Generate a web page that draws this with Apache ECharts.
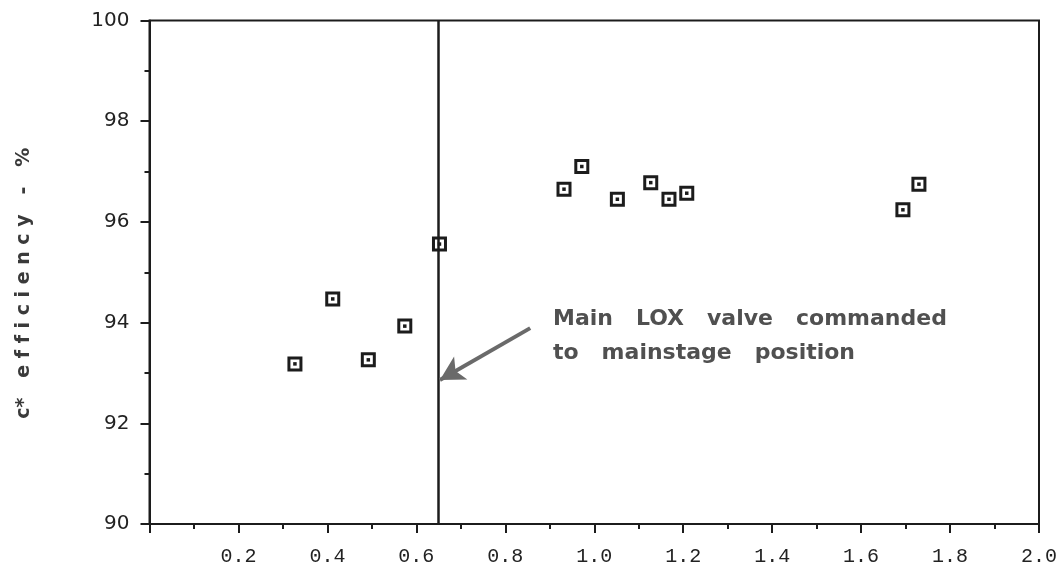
<!DOCTYPE html>
<html>
<head>
<meta charset="utf-8">
<script src="https://cdn.jsdelivr.net/npm/echarts@6/dist/echarts.min.js"></script>
<style>
html,body{margin:0;padding:0;background:#fff;}
#chart{width:1063px;height:572px;}
</style>
</head>
<body>
<div id="chart"></div>
<script>
// Data
const xValues = [0.327, 0.412, 0.492, 0.574, 0.652, 0.932, 0.972, 1.052, 1.127, 1.168, 1.208, 1.694, 1.730];
const yValues = [93.18, 94.47, 93.26, 93.93, 95.56, 96.65, 97.10, 96.45, 96.78, 96.45, 96.57, 96.24, 96.75];
const valveLineX = 0.65;
const arrowFrom = [0.856, 93.89];
const arrowTo = [0.653, 92.86];
const annotationLines = ['Main   LOX   valve   commanded', 'to   mainstage   position'];
const yAxisTitle = 'c*   e f f i c i e n c y   -   %';

const points = xValues.map((x, i) => [x, yValues[i]]);
const chart = echarts.init(document.getElementById('chart'));
const ink = '#1c1c1c';

chart.setOption({
  animation: false,
  backgroundColor: '#ffffff',
  grid: { left: 149.5, right: 24, top: 20.5, bottom: 48, show: true, borderColor: ink, borderWidth: 2, backgroundColor: 'transparent' },
  xAxis: {
    type: 'value', min: 0, max: 2, interval: 0.2,
    axisLine: { show: true, lineStyle: { color: ink, width: 2 } },
    axisTick: { show: true, length: 9, lineStyle: { color: ink, width: 2 } },
    minorTick: { show: true, splitNumber: 2, length: 5, lineStyle: { color: ink, width: 2 } },
    splitLine: { show: false },
    axisLabel: { margin: 23, color: '#222', fontFamily: 'Liberation Mono', fontSize: 20,
      formatter: v => (Math.abs(v) < 1e-9 ? '' : v.toFixed(1)) }
  },
  yAxis: {
    type: 'value', min: 90, max: 100, interval: 2,
    name: yAxisTitle, nameLocation: 'middle', nameGap: 116, nameRotate: 90,
    nameTextStyle: { fontFamily: 'DejaVu Sans', fontWeight: 'bold', fontSize: 19, color: '#3a3a3a', padding: [0, 22, 0, 0] },
    axisLine: { show: true, lineStyle: { color: ink, width: 2 } },
    axisTick: { show: true, length: 9, lineStyle: { color: ink, width: 2 } },
    minorTick: { show: true, splitNumber: 2, length: 5, lineStyle: { color: ink, width: 2 } },
    splitLine: { show: false },
    axisLabel: { margin: 20, color: '#222', fontFamily: 'DejaVu Sans', fontSize: 20 }
  },
  series: [
    {
      type: 'scatter', data: points, symbol: 'rect', symbolSize: 12, z: 3,
      itemStyle: { color: '#ffffff', borderColor: ink, borderWidth: 3, opacity: 1 },
      markLine: {
        silent: true, animation: false, symbol: ['none', 'none'],
        label: { show: false },
        lineStyle: { color: ink, width: 2.5, type: 'solid' },
        data: [
          { xAxis: valveLineX },
          [
            { coord: arrowFrom, symbol: 'none', lineStyle: { color: '#6a6a6a', width: 4 } },
            { coord: arrowTo, symbol: 'arrow', symbolSize: [20, 24] }
          ]
        ]
      }
    },
    {
      type: 'scatter', data: points, symbol: 'rect', symbolSize: 3.5, z: 4,
      itemStyle: { color: ink, opacity: 1 }, silent: true
    }
  ],
  graphic: [
    {
      type: 'text', left: 553, top: 302, z: 10,
      style: { text: annotationLines.join('\n'), fill: '#505050', font: 'bold 22px "DejaVu Sans"', lineHeight: 34 }
    }
  ]
});
</script>
</body>
</html>
